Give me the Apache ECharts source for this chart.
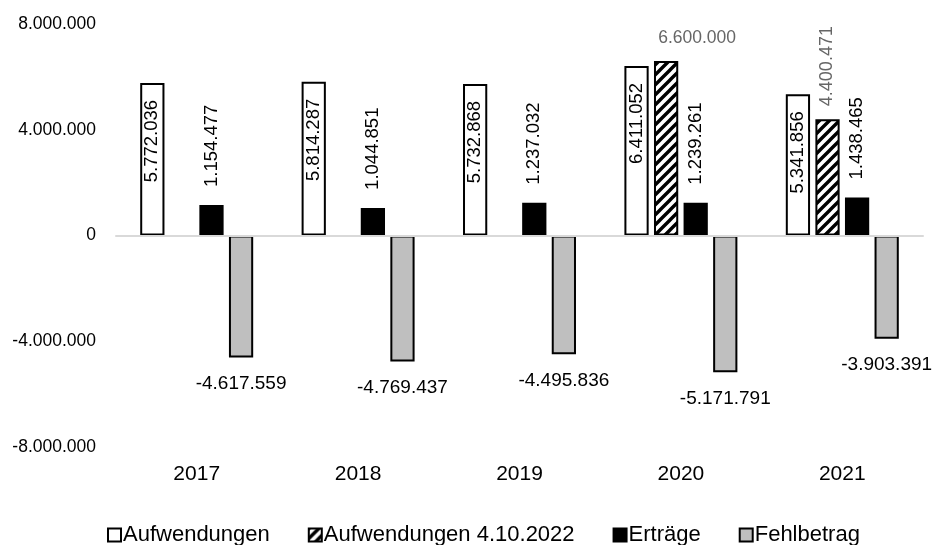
<!DOCTYPE html>
<html>
<head>
<meta charset="utf-8">
<script src="https://cdn.jsdelivr.net/npm/echarts@6/dist/echarts.min.js"></script>
<style>
  html, body { margin: 0; padding: 0; background: #fff; }
  #chart { width: 933px; height: 545px; }
</style>
</head>
<body>
<div id="chart"></div>
<script>
const years = ['2017', '2018', '2019', '2020', '2021'];
const aufwendungen = [5772036, 5814287, 5732868, 6411052, 5341856];
const aufwendungen2022 = [null, null, null, 6600000, 4400471];
const ertraege = [1154477, 1044851, 1237032, 1239261, 1438465];
const fehlbetrag = [-4617559, -4769437, -4495836, -5171791, -3903391];
const yTicks = { min: -8000000, max: 8000000, interval: 4000000 };
const seriesNames = ['Aufwendungen', 'Aufwendungen 4.10.2022', 'Erträge', 'Fehlbetrag'];

function fmt(v) {
  const n = Math.round(Math.abs(v));
  const s = String(n).replace(/\B(?=(\d{3})+(?!\d))/g, '.');
  return (v < 0 ? '-' : '') + s;
}

// hatch pattern
const S = 10;
const pc = document.createElement('canvas');
pc.width = S; pc.height = S;
const ctx = pc.getContext('2d');
ctx.fillStyle = '#fff';
ctx.fillRect(0, 0, S, S);
ctx.strokeStyle = '#000';
ctx.lineWidth = 3.4;
ctx.beginPath();
ctx.moveTo(-1, S + 1); ctx.lineTo(S + 1, -1);
ctx.moveTo(-S - 1, S + 1); ctx.lineTo(S + 1, -S - 1);
ctx.moveTo(-1, 2 * S + 1); ctx.lineTo(2 * S + 1, -1);
ctx.stroke();
const hatch = { image: pc, repeat: 'repeat' };

const FONT = "'Liberation Sans', Arial, sans-serif";

const chart = echarts.init(document.getElementById('chart'));
chart.setOption({
  animation: false,
  backgroundColor: '#fff',
  grid: { left: 116, right: 10, top: 24, bottom: 98, outerBoundsMode: 'none', containLabel: false },
  legend: {
    left: 102, top: 519,
    icon: 'rect',
    itemWidth: 13, itemHeight: 13, itemGap: 38,
    textStyle: { fontFamily: FONT, fontSize: 22, color: '#000', padding: [0, 0, 0, -3] },
    data: seriesNames
  },
  xAxis: [
    {
      type: 'category', data: years,
      axisLine: { show: false, onZero: false },
      axisTick: { show: false },
      axisLabel: { fontFamily: FONT, fontSize: 21, color: '#000', margin: 17 },
      splitLine: { show: false }
    },
    {
      type: 'category', data: years, position: 'top',
      axisLine: { show: true, onZero: true, lineStyle: { color: '#d9d9d9', width: 2 } },
      axisTick: { show: false },
      axisLabel: { show: false },
      splitLine: { show: false },
      z: 5
    }
  ],
  yAxis: {
    type: 'value', min: yTicks.min, max: yTicks.max, interval: yTicks.interval,
    axisLine: { show: false }, axisTick: { show: false }, splitLine: { show: false },
    axisLabel: { fontFamily: FONT, fontSize: 17.5, color: '#000', margin: 20, formatter: fmt }
  },
  series: [
    {
      name: seriesNames[0], type: 'bar', data: aufwendungen,
      barCategoryGap: '30%', barGap: '22%',
      itemStyle: { color: '#fff', borderColor: '#000', borderWidth: 2 },
      label: {
        show: true, position: 'insideTop', rotate: 90, align: 'right', verticalAlign: 'middle',
        distance: 17, fontFamily: FONT, fontSize: 18.5, color: '#000',
        formatter: p => fmt(p.value)
      }
    },
    {
      name: seriesNames[1], type: 'bar',
      data: aufwendungen2022.map((v, i) => i === 3
        ? { value: v, label: { rotate: 0, align: 'center', verticalAlign: 'middle', distance: 23, offset: [31, 0], fontSize: 17.5 } }
        : v),
      barCategoryGap: '30%', barGap: '22%',
      itemStyle: { color: hatch, borderColor: '#000', borderWidth: 2 },
      label: {
        show: true, position: 'top', rotate: 90, align: 'left', verticalAlign: 'middle',
        distance: 13, fontFamily: FONT, fontSize: 18, color: '#666',
        formatter: p => p.value == null ? '' : fmt(p.value)
      }
    },
    {
      name: seriesNames[2], type: 'bar', data: ertraege,
      barCategoryGap: '30%', barGap: '22%',
      itemStyle: { color: '#000', borderColor: '#000', borderWidth: 2 },
      label: {
        show: true, position: 'top', rotate: 90, align: 'left', verticalAlign: 'middle',
        distance: 18, fontFamily: FONT, fontSize: 18.5, color: '#000',
        formatter: p => fmt(p.value)
      }
    },
    {
      name: seriesNames[3], type: 'bar', data: fehlbetrag,
      barCategoryGap: '30%', barGap: '22%',
      itemStyle: { color: '#bfbfbf', borderColor: '#000', borderWidth: 2 },
      label: {
        show: true, position: 'bottom', distance: 17,
        fontFamily: FONT, fontSize: 19, color: '#000',
        formatter: p => fmt(p.value)
      }
    }
  ]
});
</script>
</body>
</html>
